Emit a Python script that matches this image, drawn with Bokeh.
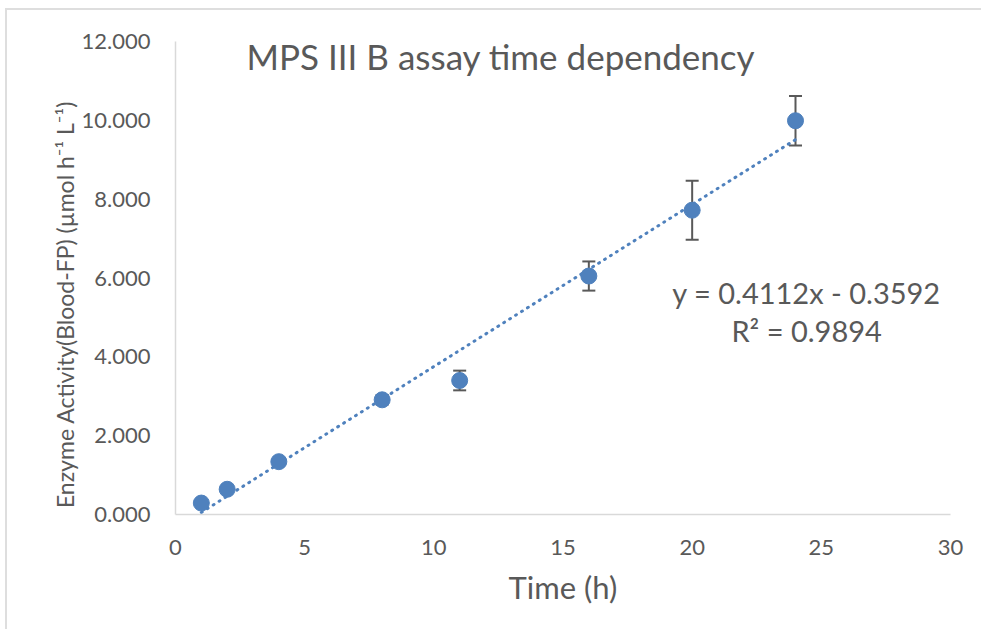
from bokeh.plotting import figure
from bokeh.models import Range1d, ColumnDataSource, Whisker, Label, FixedTicker, NumeralTickFormatter
from bokeh.embed import file_html
from bokeh.resources import INLINE

# Assay readings: incubation time (h) vs. enzyme activity with SD
time_h = [1, 2, 4, 8, 11, 16, 20, 24]
activity = [0.29, 0.64, 1.34, 2.91, 3.40, 6.05, 7.72, 9.99]
sd = [0.06, 0.05, 0.06, 0.12, 0.25, 0.37, 0.75, 0.63]

# Linear trendline from the fit
slope = 0.4112
intercept = -0.3592
r_squared = 0.9894

x_ticks = [0, 5, 10, 15, 20, 25, 30]
y_ticks = [0, 2, 4, 6, 8, 10, 12]

FONT = "Lato"
GREY = "#595959"
BLUE = "#4f81bd"

p = figure(
    width=974, height=629,
    x_range=Range1d(0, 30), y_range=Range1d(0, 12),
    output_backend="svg", toolbar_location=None,
    min_border_left=168, min_border_top=31, min_border_right=31, min_border_bottom=115,
    frame_width=775, frame_height=473,
    margin=(8, 0, 0, 5),
    styles={"border-top": "2px solid #dedede", "border-left": "2px solid #dedede"},
)
p.outline_line_color = None
p.xgrid.visible = False
p.ygrid.visible = False

for ax in (p.xaxis[0], p.yaxis[0]):
    ax.axis_line_color = "#d9d9d9"
    ax.axis_line_width = 1.5
    ax.major_tick_line_color = None
    ax.minor_tick_line_color = None
    ax.major_label_text_font = FONT
    ax.major_label_text_font_size = "22px"
    ax.major_label_text_color = GREY
    ax.axis_label_text_font = FONT
    ax.axis_label_text_font_style = "normal"
    ax.axis_label_text_color = GREY

p.xaxis.ticker = FixedTicker(ticks=x_ticks)
p.yaxis.ticker = FixedTicker(ticks=y_ticks)
p.yaxis.formatter = NumeralTickFormatter(format="0.000")
p.xaxis.major_label_standoff = 19
p.yaxis.major_label_standoff = 19

p.xaxis.axis_label = "Time (h)"
p.xaxis.axis_label_text_font_size = "31px"
p.xaxis.axis_label_standoff = 10
# trailing no-break spaces push the rotated title a little below the frame centre
p.yaxis.axis_label = "Enzyme Activity(Blood-FP)  (\u00b5mol h\u207b\u00b9 L\u207b\u00b9)" + "\u00a0" * 8
p.yaxis.axis_label_text_font_size = "23px"
p.yaxis.axis_label_standoff = 0

src = ColumnDataSource(dict(
    x=time_h, y=activity,
    lower=[a - s for a, s in zip(activity, sd)],
    upper=[a + s for a, s in zip(activity, sd)],
))

# Trendline over the measured time span
x_fit = [min(time_h), max(time_h)]
y_fit = [slope * t + intercept for t in x_fit]
p.line(x_fit, y_fit, line_color=BLUE, line_width=3, line_dash="1 6", line_cap="round")

p.scatter("x", "y", source=src, size=16, fill_color=BLUE, line_color=BLUE)

err = Whisker(source=src, base="x", lower="lower", upper="upper",
              line_color=GREY, line_width=2)
err.upper_head.size = 13
err.lower_head.size = 13
err.upper_head.line_color = GREY
err.lower_head.line_color = GREY
err.upper_head.line_width = 2
err.lower_head.line_width = 2
p.add_layout(err)

p.add_layout(Label(x=12.6, y=11.62, text="MPS III B assay time dependency",
                   text_font=FONT, text_font_size="35px", text_color=GREY,
                   text_align="center", text_baseline="middle"))

p.add_layout(Label(x=24.43, y=5.62, text=f"y = {slope}x - {abs(intercept)}",
                   text_font=FONT, text_font_size="29px", text_color=GREY,
                   text_align="center", text_baseline="middle"))
p.add_layout(Label(x=24.43, y=4.66, text=f"R\u00b2 = {r_squared}",
                   text_font=FONT, text_font_size="29px", text_color=GREY,
                   text_align="center", text_baseline="middle"))

open("out.html", "w").write(file_html(p, INLINE))
